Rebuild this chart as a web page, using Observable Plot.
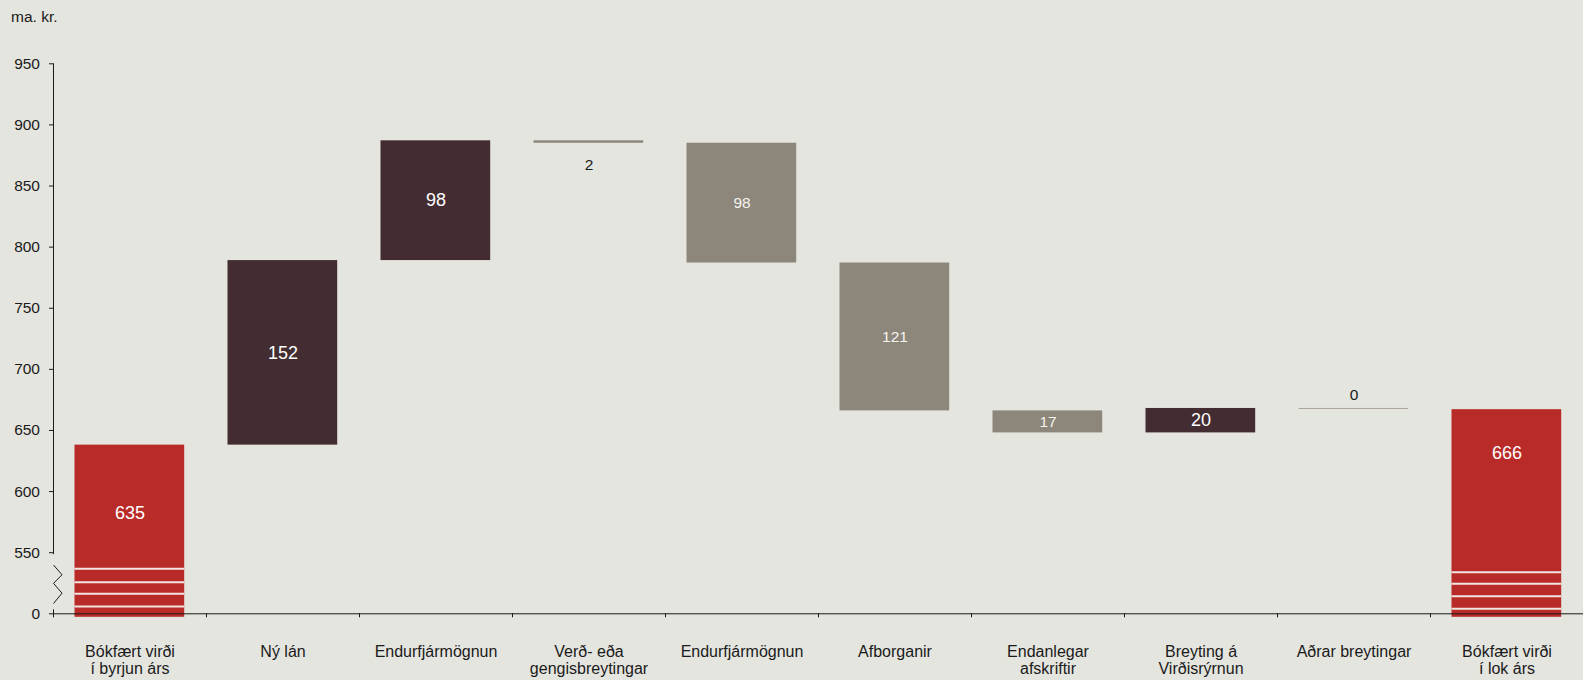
<!DOCTYPE html>
<html>
<head>
<meta charset="utf-8">
<script src="https://cdn.jsdelivr.net/npm/d3@7"></script>
<script src="https://cdn.jsdelivr.net/npm/@observablehq/plot@0.6"></script>
<style>
  html, body { margin: 0; padding: 0; background: #e5e5df; }
  #wrap { position: relative; width: 1583px; height: 680px; font-family: "Liberation Sans", Arial, sans-serif; }
  #unit { position: absolute; left: 11px; top: 8px; font-size: 15.5px; line-height: 18px; color: #1a1a1a; }
</style>
</head>
<body>
<div id="wrap"><div id="unit">ma. kr.</div></div>
<script>
// ---- data (ma. kr.) ----
const categories = [
  "Bókfært virði\ní byrjun árs",
  "Ný lán",
  "Endurfjármögnun",
  "Verð- eða\ngengisbreytingar",
  "Endurfjármögnun",
  "Afborganir",
  "Endanlegar\nafskriftir",
  "Breyting á\nVirðisrýrnun",
  "Aðrar breytingar",
  "Bókfært virði\ní lok árs"
];
const lowerValues = [0, 638, 789, 885, 787, 666, 648, 648, 668, 0];
const upperValues = [638, 789, 887, 887, 885, 787, 666, 668, 668, 667];
const barKind = ["total", "up", "up", "down", "down", "down", "down", "up", "other", "total"];
const valueLabels = ["635", "152", "98", "2", "98", "121", "17", "20", "0", "666"];
const labelValues = [582, 713.5, 838, 867, 836, 726.5, 657, 658, 679, 631];
const yTicks = [0, 550, 600, 650, 700, 750, 800, 850, 900, 950];
// break stripes inside the total bars (values within the compressed 0–550 zone)
const stripesStart = [405, 285, 180, 66];
const stripesEnd = [374, 270, 158, 45];

// ---- broken axis: 0..550 compressed into one tick interval ----
const brk = v => v <= 550 ? 500 + v / 11 : v;

const keys = categories.map((_, i) => String(i));
const rows = categories.map((c, i) => ({
  key: keys[i], lo: brk(lowerValues[i]), hi: brk(upperValues[i]),
  kind: barKind[i], label: valueLabels[i], ly: brk(labelValues[i])
}));
const stripes = [
  ...stripesStart.map(v => ({key: keys[0], v: brk(v)})),
  ...stripesEnd.map(v => ({key: keys[9], v: brk(v)}))
];

const colors = {total: "#b92b28", up: "#432d32", down: "#8c867b", other: "#aaa39b"};
const inset = {insetLeft: 21.5, insetRight: 21.8};
const ink = "#1a1a1a";

function decor(index, scales, values, dims) {
  const g = d3.create("svg:g").attr("fill", "none").attr("stroke", ink).attr("stroke-width", 1);
  const y = scales.y, x = scales.x;
  const ax = dims.marginLeft + 0.5;
  const y0 = y(brk(0)), y550 = y(550), yTop = y(950);
  const span = y0 - y550;
  // upper axis line
  g.append("line").attr("x1", ax).attr("x2", ax).attr("y1", yTop).attr("y2", y550 + 2);
  // zigzag break
  const fr = [0.21, 0.37, 0.51, 0.67, 0.84];
  const pts = fr.map((f, i) => [i % 2 === 0 ? ax : ax + 8.5, y550 + f * span]);
  g.append("path").attr("d", "M" + pts.map(p => p.join(",")).join("L"));
  // stub at 0
  g.append("line").attr("x1", ax).attr("x2", ax).attr("y1", y0 - 4).attr("y2", y0 + 4);
  // x-axis ticks at category boundaries
  keys.slice(1).forEach(k => {
    const xx = Math.round(x(k)) + 0.5;
    g.append("line").attr("x1", xx).attr("x2", xx).attr("y1", y0).attr("y2", y0 + 4);
  });
  return g.node();
}

const plot = Plot.plot({
  width: 1583,
  height: 680,
  marginLeft: 53,
  marginRight: 0,
  marginTop: 63.3,
  marginBottom: 66.7,
  style: {background: "transparent", fontFamily: "'Liberation Sans', Arial, sans-serif", color: ink},
  x: {domain: keys, padding: 0, axis: null},
  y: {domain: [500, 950], axis: null},
  marks: [
    Plot.rectY(rows.filter(d => d.kind === "total"), {
      x: "key", y1: "lo", y2: "hi", fill: colors.total, insetBottom: -3.5, ...inset
    }),
    Plot.rectY(rows.filter(d => d.kind === "up" || d.kind === "down"), {
      x: "key", y1: "lo", y2: "hi", fill: d => colors[d.kind], ...inset
    }),
    Plot.tickY(rows.filter(d => d.kind === "other"), {
      x: "key", y: "hi", stroke: colors.other, strokeWidth: 1, ...inset
    }),
    Plot.tickY(stripes, {x: "key", y: "v", stroke: "#f2e6e3", strokeWidth: 2, ...inset}),
    Plot.text(rows, {
      x: "key", y: "ly", text: "label",
      fill: d => (d.kind === "other" || d.label === "2") ? ink : (d.kind === "down" ? "#f6f4ef" : "#ffffff"),
      fontSize: d => (d.kind === "total" || d.kind === "up") ? 18 : 15.5
    }),
    Plot.ruleY([brk(0)], {stroke: ink, strokeWidth: 1}),
    Plot.axisY({
      ticks: yTicks.map(brk), tickFormat: v => v === 500 ? "0" : String(v),
      tickSize: 4, tickPadding: 9.5, fontSize: 15.5, stroke: ink, color: ink, label: null
    }),
    Plot.axisX({
      tickSize: 0, tickPadding: 30, fontSize: 16, lineHeight: 1.12,
      tickFormat: k => categories[+k], color: ink, label: null
    }),
    decor
  ]
});
document.getElementById("wrap").appendChild(plot);
</script>
</body>
</html>
